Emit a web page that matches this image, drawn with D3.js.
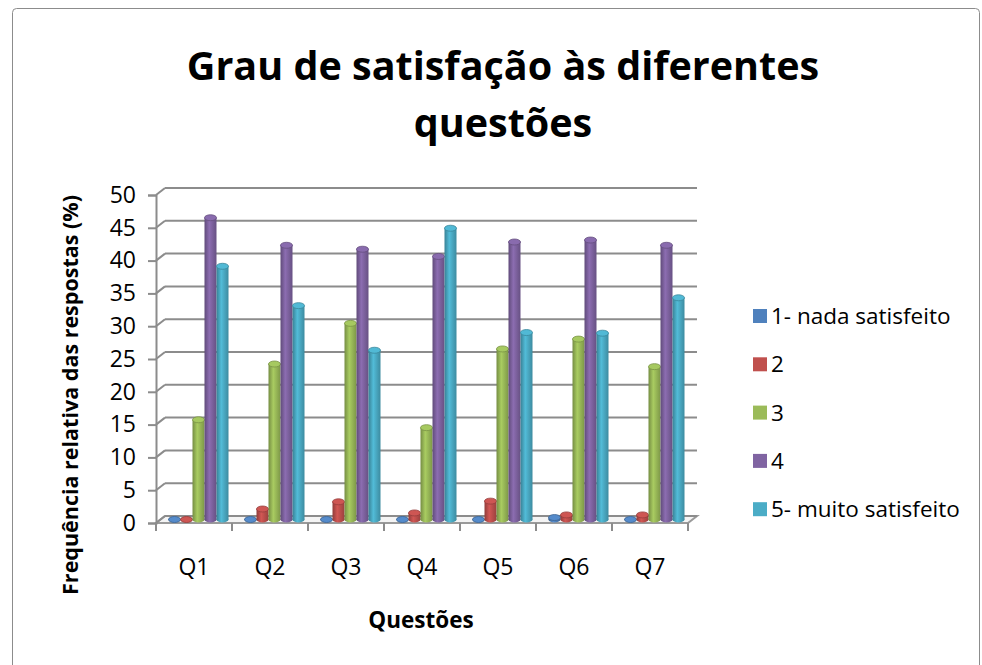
<!DOCTYPE html>
<html>
<head>
<meta charset="utf-8">
<script src="https://cdn.jsdelivr.net/npm/d3@7"></script>
<style>
  body { margin: 0; background: #fff; }
  svg { display: block; font-family: "Open Sans", Lato, sans-serif; }
</style>
</head>
<body>
<div id="chart-holder"></div>
<script>
// Data
var categories = ['Q1', 'Q2', 'Q3', 'Q4', 'Q5', 'Q6', 'Q7'];
var seriesNames = ['1- nada satisfeito', '2', '3', '4', '5- muito satisfeito'];
var nadaSatisfeito = [0, 0, 0, 0, 0, 0.3, 0];
var serie2 = [0, 1.6, 2.7, 1.0, 2.8, 0.7, 0.7];
var serie3 = [15.2, 23.7, 29.9, 14.0, 26.0, 27.5, 23.3];
var serie4 = [46.0, 41.8, 41.2, 40.1, 42.3, 42.6, 41.8];
var muitoSatisfeito = [38.6, 32.6, 25.8, 44.4, 28.5, 28.4, 33.8];
var yTicks = [0, 5, 10, 15, 20, 25, 30, 35, 40, 45, 50];
var colors = ['#4F81BD', '#C0504D', '#9BBB59', '#8064A2', '#4BACC6'];

var series = [nadaSatisfeito, serie2, serie3, serie4, muitoSatisfeito];

var width = 982, height = 665,
    left = 156, right = 688, floorY = 523, topY = 195,
    depthX = 9, depthY = -7, barW = 12, capRy = 3,
    font = '"Open Sans", Lato, sans-serif';

var svg = d3.select('#chart-holder').append('svg')
    .attr('width', width)
    .attr('height', height);

var defs = svg.append('defs');

// horizontal shading for the cylinders
colors.forEach(function (c, i) {
    var g = defs.append('linearGradient')
        .attr('id', 'cyl' + i)
        .attr('x1', '0%').attr('x2', '100%').attr('y1', '0%').attr('y2', '0%');
    g.append('stop').attr('offset', '0%').attr('stop-color', d3.color(c).darker(0.8));
    g.append('stop').attr('offset', '40%').attr('stop-color', d3.color(c).brighter(0.25));
    g.append('stop').attr('offset', '100%').attr('stop-color', d3.color(c).darker(0.6));
});

// outer chart frame
svg.append('rect')
    .attr('x', 12.5).attr('y', 8.5)
    .attr('width', 967).attr('height', 680)
    .attr('rx', 4)
    .attr('fill', '#fff')
    .attr('stroke', '#8c8c8c');

// title
svg.append('text')
    .attr('x', 503).attr('y', 80)
    .attr('text-anchor', 'middle')
    .attr('font-size', 39.5).attr('font-weight', 'bold')
    .text('Grau de satisfação às diferentes');
svg.append('text')
    .attr('x', 503).attr('y', 137)
    .attr('text-anchor', 'middle')
    .attr('font-size', 39.5).attr('font-weight', 'bold')
    .text('questões');

var y = d3.scaleLinear().domain([0, 50]).range([floorY, topY]);
var x0 = d3.scaleBand().domain(categories).range([left, right]);
var x1 = d3.scaleBand().domain(seriesNames).range([0, barW * seriesNames.length]);

// floor
svg.append('polygon')
    .attr('points', [[left, floorY], [right, floorY], [right + depthX, floorY + depthY], [left + depthX, floorY + depthY]].join(' '))
    .attr('fill', '#f4f4f4')
    .attr('stroke', '#9a9a9a')
    .attr('stroke-width', 2);

// back wall gridlines + slanted links to the front axis
var grid = svg.append('g');
grid.selectAll('line.grid')
    .data(yTicks)
    .enter().append('line')
    .attr('class', 'grid')
    .attr('x1', left + depthX).attr('x2', right + depthX)
    .attr('y1', function (d) { return y(d) + depthY; })
    .attr('y2', function (d) { return y(d) + depthY; })
    .attr('stroke', '#8c8c8c').attr('stroke-width', 2);
grid.selectAll('line.link')
    .data(yTicks)
    .enter().append('line')
    .attr('class', 'link')
    .attr('x1', left).attr('x2', left + depthX)
    .attr('y1', function (d) { return y(d); })
    .attr('y2', function (d) { return y(d) + depthY; })
    .attr('stroke', '#8c8c8c').attr('stroke-width', 2);

// value axis
var yAxis = svg.append('g')
    .attr('transform', 'translate(' + left + ',0)')
    .call(d3.axisLeft(y).tickValues(yTicks).tickSize(8).tickPadding(12));
yAxis.select('.domain').attr('stroke', '#8c8c8c').attr('stroke-width', 2);
yAxis.selectAll('.tick line').attr('stroke', '#8c8c8c').attr('stroke-width', 2);
yAxis.selectAll('.tick text').attr('font-size', 23).attr('fill', '#000')
    .attr('font-family', font);

// category axis
var xAxis = svg.append('g')
    .attr('transform', 'translate(0,' + floorY + ')')
    .call(d3.axisBottom(x0).tickSize(0).tickPadding(36));
xAxis.select('.domain').remove();
xAxis.selectAll('.tick text').attr('font-size', 23).attr('fill', '#000')
    .attr('font-family', font);
svg.append('g').selectAll('line')
    .data(categories.concat(['end']))
    .enter().append('line')
    .attr('x1', function (d) { return d === 'end' ? right : x0(d); })
    .attr('x2', function (d) { return d === 'end' ? right : x0(d); })
    .attr('y1', floorY).attr('y2', floorY + 8)
    .attr('stroke', '#8c8c8c').attr('stroke-width', 2);

// bars as cylinders, at half depth
var groups = svg.append('g').selectAll('g')
    .data(categories)
    .enter().append('g')
    .attr('transform', function (c) {
        var off = x0(c) + (x0.bandwidth() - barW * seriesNames.length) / 2 + depthX / 2;
        return 'translate(' + off + ',' + (depthY / 2) + ')';
    });

var cyl = groups.selectAll('g')
    .data(function (c, ci) {
        return series.map(function (s, si) { return { name: seriesNames[si], idx: si, value: s[ci] }; });
    })
    .enter().append('g');

cyl.append('ellipse')
    .attr('cx', function (d) { return x1(d.name) + barW / 2; })
    .attr('cy', y(0))
    .attr('rx', barW / 2).attr('ry', capRy)
    .attr('fill', function (d) { return 'url(#cyl' + d.idx + ')'; });

cyl.append('rect')
    .attr('x', function (d) { return x1(d.name); })
    .attr('y', function (d) { return y(d.value); })
    .attr('width', barW)
    .attr('height', function (d) { return y(0) - y(d.value); })
    .attr('fill', function (d) { return 'url(#cyl' + d.idx + ')'; });

// top cap
cyl.append('ellipse')
    .attr('cx', function (d) { return x1(d.name) + barW / 2; })
    .attr('cy', function (d) { return y(d.value); })
    .attr('rx', barW / 2).attr('ry', capRy)
    .attr('fill', function (d) { return d3.color(colors[d.idx]).brighter(0.2); })
    .attr('stroke', function (d) { return d3.color(colors[d.idx]).darker(0.7); })
    .attr('stroke-width', 0.8);

// axis titles
svg.append('text')
    .attr('transform', 'translate(78,' + 395 + ') rotate(-90)')
    .attr('text-anchor', 'middle')
    .attr('font-size', 21.5).attr('font-weight', 'bold')
    .text('Frequência relativa das respostas (%)');
svg.append('text')
    .attr('x', 421).attr('y', 628)
    .attr('text-anchor', 'middle')
    .attr('font-size', 22.5).attr('font-weight', 'bold')
    .text('Questões');

// legend
var legend = svg.append('g').selectAll('g')
    .data(seriesNames)
    .enter().append('g')
    .attr('transform', function (d, i) { return 'translate(753,' + (316 + i * 48.3) + ')'; });
legend.append('rect')
    .attr('x', 0).attr('y', -7)
    .attr('width', 14).attr('height', 14)
    .attr('fill', function (d, i) { return colors[i]; });
legend.append('text')
    .attr('x', 18).attr('y', 8)
    .attr('font-size', 22.5)
    .text(function (d) { return d; });
</script>
</body>
</html>
